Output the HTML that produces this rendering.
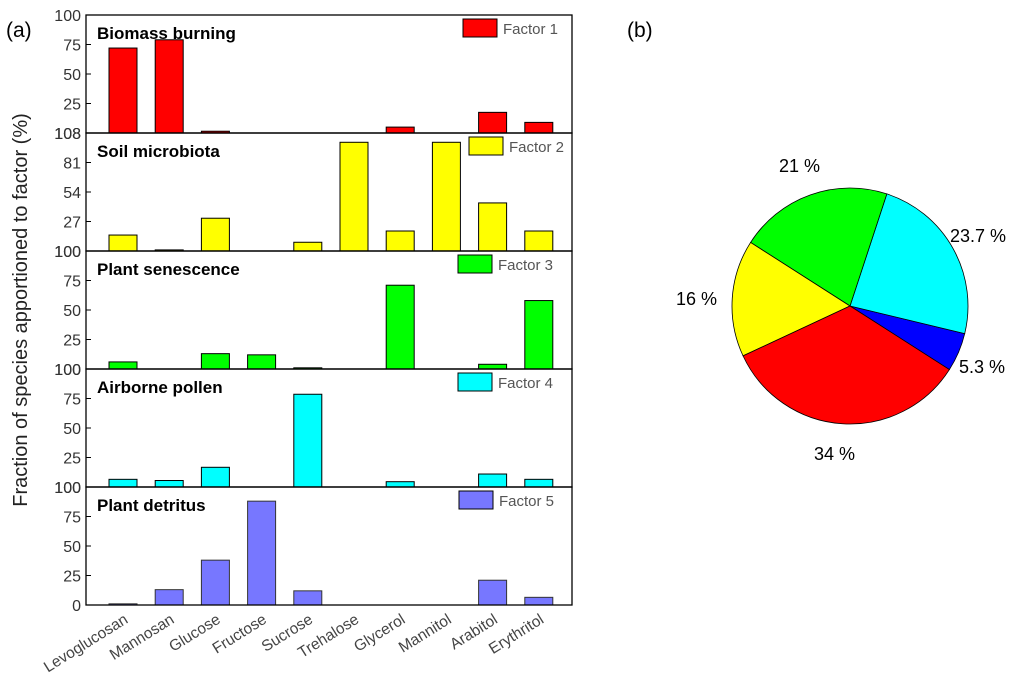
<!DOCTYPE html>
<html><head><meta charset="utf-8">
<style>
html,body{margin:0;padding:0;background:#fff;}
svg{display:block;font-family:"Liberation Sans",Arial,sans-serif;}
</style></head>
<body>
<svg id="chart" width="1020" height="681" viewBox="0 0 1020 681" xmlns="http://www.w3.org/2000/svg">
<text x="6" y="37" font-size="21" fill="#000">(a)</text>
<text x="627" y="37" font-size="21" fill="#000">(b)</text>
<text transform="translate(27,310) rotate(-90)" text-anchor="middle" font-size="20" fill="#222">Fraction of species apportioned to factor (%)</text>
<g id="bars"></g>
<g id="pie"></g>
</svg>
<script>
const categories = ["Levoglucosan","Mannosan","Glucose","Fructose","Sucrose","Trehalose","Glycerol","Mannitol","Arabitol","Erythritol"];
const factorNames = ["Factor 1","Factor 2","Factor 3","Factor 4","Factor 5"];
const panelTitles = ["Biomass burning","Soil microbiota","Plant senescence","Airborne pollen","Plant detritus"];
const factor1 = [72,79,1.5,0,0,0,5,0,17.5,9];
const factor2 = [14.6,1,30,0,8,99.5,18.3,99.5,44,18.3];
const factor3 = [6,0,13,12,1,0,71,0,4,58];
const factor4 = [6.5,5.5,16.7,0,78.6,0,4.5,0,11,6.5];
const factor5 = [1,13,38,88,12,0,0,0,21,6.5];
const yMaxes = [100,108,100,100,100];
const tickLabels = [["108","25","50","75","100"],["100","27","54","81","108"],["100","25","50","75","100"],["100","25","50","75","100"],["0","25","50","75","100"]];
const tickValues = [[0,25,50,75,100],[0,27,54,81,108],[0,25,50,75,100],[0,25,50,75,100],[0,25,50,75,100]];
const pieLabels = ["5.3 %","23.7 %","21 %","16 %","34 %"];
const pieValues = [5.3,23.7,21,16,34];

const NS="http://www.w3.org/2000/svg";
function mk(tag,attrs,parent){const e=document.createElementNS(NS,tag);for(const k in attrs)e.setAttribute(k,attrs[k]);parent.appendChild(e);return e;}
const series=[factor1,factor2,factor3,factor4,factor5];
const colors=["#ff0000","#ffff00","#00ff00","#00ffff","#7777ff"];
const L=86,R=572,T=15,PH=118;
const xC=i=>123+i*46.2;
const barsG=document.getElementById('bars');
for(let p=0;p<5;p++){
  const top=T+p*PH,bot=top+PH;
  const y=v=>bot-v/yMaxes[p]*PH;
  const g=mk('g',{},barsG);
  
  
  series[p].forEach((v,i)=>{
    if(v<=0)return;
    const r=mk('rect',{x:xC(i)-14,y:y(v),width:28,height:bot-y(v),fill:colors[p],stroke:p==4?'#333':'#000','stroke-width':1},g);
    
    
  });
  const fr=mk('rect',{x:L,y:top,width:R-L,height:PH,fill:'none',stroke:'#000','stroke-width':1.3},g);
  
  
  tickValues[p].forEach((tv,k)=>{
    const ty=y(tv);
    mk('line',{x1:L,x2:L+5,y1:ty,y2:ty,stroke:'#000'},g);
    const t=mk('text',{x:L-5,y:ty+6,'text-anchor':'end','font-size':16,fill:'#333'},g);
    t.textContent=tickLabels[p][k];
    
    
  });
  const tt=mk('text',{x:97,y:top+24,'font-size':17,'font-weight':'bold',fill:'#000'},g);
  tt.textContent=panelTitles[p];
  
  
  const lx=[463,469,458,458,459][p];
  const lr=mk('rect',{x:lx,y:top+4,width:34,height:18,fill:colors[p],stroke:'#000'},g);
  
  
  const lt=mk('text',{x:lx+40,y:top+19,'font-size':15,fill:'#555'},g);
  lt.textContent=factorNames[p];
  
  
}
categories.forEach((c,i)=>{
  const x=xC(i)+6,yy=622;
  const t=mk('text',{transform:`translate(${x},${yy}) rotate(-32)`,'text-anchor':'end','font-size':15.5,fill:'#444'},barsG);
  t.textContent=c;
  
  
});
const pieG=document.getElementById('pie');
const cx=850,cy=306,rad=118;
const pieColors=["#0000ff","#00ffff","#00ff00","#ffff00","#ff0000"];
const labelPos=[[959,373],[950,242],[779,172],[676,305],[814,460]];
const total=pieValues.reduce((a,b)=>a+b,0);
let ang=-32.6;
pieValues.forEach((v,i)=>{
  const a0=ang*Math.PI/180,a1=(ang+v/total*360)*Math.PI/180;
  const x0=cx+rad*Math.cos(a0),y0=cy-rad*Math.sin(a0),x1=cx+rad*Math.cos(a1),y1=cy-rad*Math.sin(a1);
  const large=(v/total*360)>180?1:0;
  const s=mk('path',{d:`M${cx},${cy} L${x0},${y0} A${rad},${rad} 0 ${large} 0 ${x1},${y1} Z`,fill:pieColors[i],stroke:'#000','stroke-width':0.8},pieG);
  
  
  const t=mk('text',{x:labelPos[i][0],y:labelPos[i][1],'font-size':18,fill:'#000'},pieG);
  t.textContent=pieLabels[i];
  
  
  ang+=v/total*360;
});
</script>
</body></html>
